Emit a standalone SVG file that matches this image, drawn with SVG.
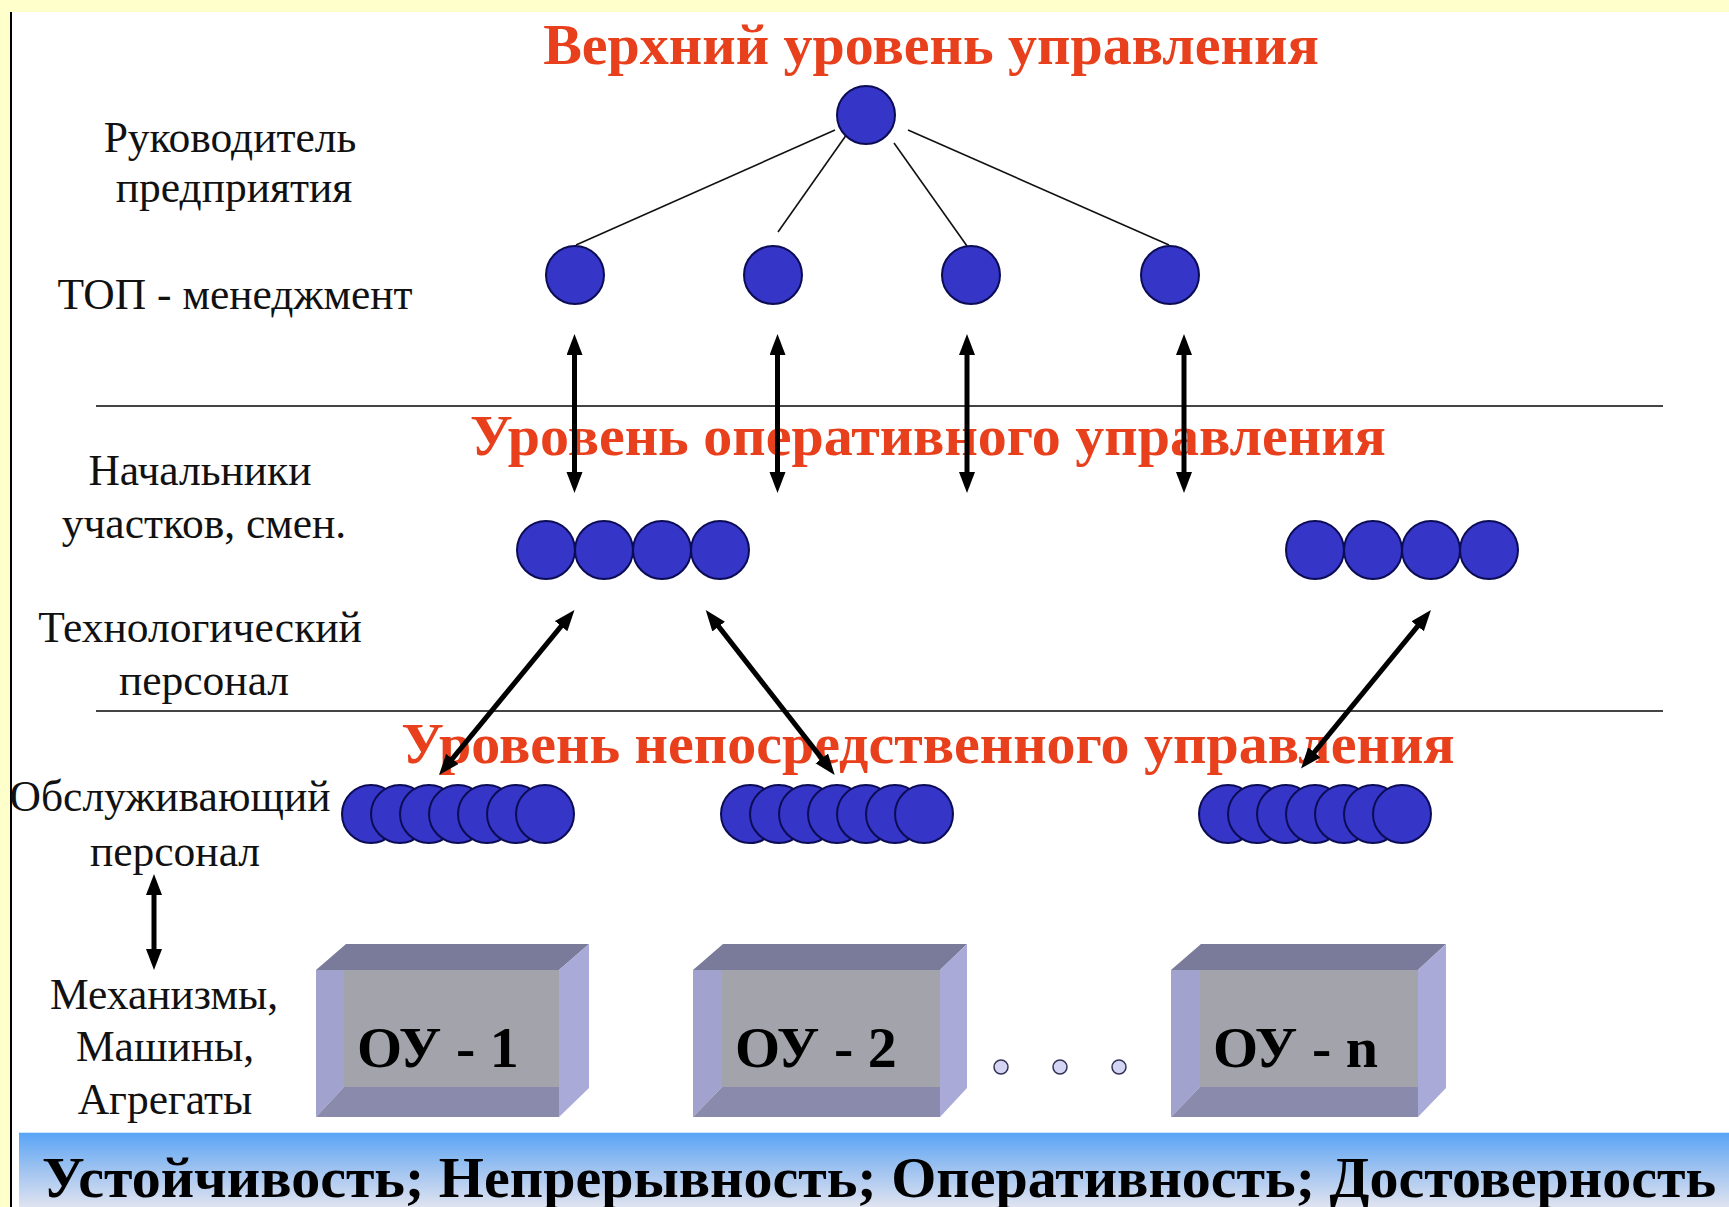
<svg xmlns="http://www.w3.org/2000/svg" width="1729" height="1207" viewBox="0 0 1729 1207">
<defs>
<style>
.red{font-family:"Liberation Serif","Times New Roman",serif;font-weight:bold;font-size:58px;fill:#E8401C;text-anchor:middle}
.lbl{font-family:"Liberation Serif","Times New Roman",serif;font-size:43.5px;fill:#111;text-anchor:middle}
.ou{font-family:"Liberation Serif","Times New Roman",serif;font-weight:bold;font-size:58px;fill:#000}
.bot{font-family:"Liberation Serif","Times New Roman",serif;font-weight:bold;font-size:58px;fill:#000;text-anchor:middle}
.c{fill:#3535C8;stroke:#0c0c55;stroke-width:2}
.thin{stroke:#111;stroke-width:1.6;fill:none}
.arr{stroke:#000;stroke-width:5;fill:none;marker-start:url(#ah);marker-end:url(#ah)}
.rule{stroke:#444;stroke-width:2}
.top{fill:#7a7a9b}.rt{fill:#aaaad8}.lf{fill:#a2a2cf}.bt{fill:#8a8aad}.fr{fill:#a3a3ac}
.dot{fill:#d4d4f4;stroke:#333355;stroke-width:1.5}
</style>
<marker id="ah" markerUnits="userSpaceOnUse" markerWidth="24" markerHeight="18" refX="4" refY="8" orient="auto-start-reverse" viewBox="0 0 24 18">
<path d="M0,0 L21,8 L0,16 Z" fill="#000"/>
</marker>
<linearGradient id="band" x1="0" y1="0" x2="0" y2="1">
<stop offset="0" stop-color="#58a4f7"/>
<stop offset="0.5" stop-color="#9fc3f0"/>
<stop offset="1" stop-color="#dfe3f0"/>
</linearGradient>
</defs>

<rect x="0" y="0" width="1729" height="1207" fill="#fff"/>
<rect x="0" y="0" width="1729" height="12" fill="#FFFFCC"/>
<rect x="0" y="0" width="10" height="1207" fill="#FFFFCC"/>
<line x1="11" y1="12" x2="11" y2="1207" stroke="#000" stroke-width="2"/>

<g id="rules">
<line class="rule" x1="96" y1="406" x2="1663" y2="406"/>
<line class="rule" x1="96" y1="711" x2="1663" y2="711"/>
</g>

<g id="titles">
<text class="red" x="931" y="64">Верхний уровень управления</text>
<text class="red" x="928" y="455">Уровень оперативного управления</text>
<text class="red" x="928" y="763">Уровень непосредственного управления</text>
</g>

<g id="labels">
<text class="lbl" x="230" y="152">Руководитель</text>
<text class="lbl" x="234" y="202">предприятия</text>
<text class="lbl" x="235" y="309">ТОП - менеджмент</text>
<text class="lbl" x="200" y="485">Начальники</text>
<text class="lbl" x="204" y="538">участков, смен.</text>
<text class="lbl" x="200" y="642">Технологический</text>
<text class="lbl" x="204" y="695">персонал</text>
<text class="lbl" x="170" y="811">Обслуживающий</text>
<text class="lbl" x="175" y="866">персонал</text>
<text class="lbl" x="164" y="1009">Механизмы,</text>
<text class="lbl" x="165" y="1061">Машины,</text>
<text class="lbl" x="165" y="1114">Агрегаты</text>
</g>

<g id="connectors">
<line class="thin" x1="835" y1="130" x2="576" y2="245"/>
<line class="thin" x1="847" y1="134" x2="778" y2="232"/>
<line class="thin" x1="894" y1="143" x2="967" y2="246"/>
<line class="thin" x1="908" y1="130" x2="1169" y2="245"/>
<line class="arr" x1="574.5" y1="351" x2="574.5" y2="476"/>
<line class="arr" x1="777.5" y1="351" x2="777.5" y2="476"/>
<line class="arr" x1="967" y1="351" x2="967" y2="476"/>
<line class="arr" x1="1184" y1="351" x2="1184" y2="476"/>
<line class="arr" x1="563.7" y1="623.1" x2="449.8" y2="761.9"/>
<line class="arr" x1="716.2" y1="623.4" x2="824.2" y2="761.6"/>
<line class="arr" x1="1420.2" y1="623.2" x2="1311.8" y2="755.4"/>
<line class="arr" x1="154" y1="891" x2="154" y2="953"/>
</g>

<g id="node-head"><circle class="c" cx="866" cy="115" r="29"/></g>
<g id="node-top">
<circle class="c" cx="575" cy="275" r="29"/>
<circle class="c" cx="773" cy="275" r="29"/>
<circle class="c" cx="971" cy="275" r="29"/>
<circle class="c" cx="1170" cy="275" r="29"/>
</g>
<g id="node-mid-1">
<circle class="c" cx="546" cy="550" r="29"/>
<circle class="c" cx="604" cy="550" r="29"/>
<circle class="c" cx="662" cy="550" r="29"/>
<circle class="c" cx="720" cy="550" r="29"/>
</g>
<g id="node-mid-2">
<circle class="c" cx="1315" cy="550" r="29"/>
<circle class="c" cx="1373" cy="550" r="29"/>
<circle class="c" cx="1431" cy="550" r="29"/>
<circle class="c" cx="1489" cy="550" r="29"/>
</g>
<g id="node-low-1">
<circle class="c" cx="371" cy="814" r="29"/>
<circle class="c" cx="400" cy="814" r="29"/>
<circle class="c" cx="429" cy="814" r="29"/>
<circle class="c" cx="458" cy="814" r="29"/>
<circle class="c" cx="487" cy="814" r="29"/>
<circle class="c" cx="516" cy="814" r="29"/>
<circle class="c" cx="545" cy="814" r="29"/>
</g>
<g id="node-low-2">
<circle class="c" cx="750" cy="814" r="29"/>
<circle class="c" cx="779" cy="814" r="29"/>
<circle class="c" cx="808" cy="814" r="29"/>
<circle class="c" cx="837" cy="814" r="29"/>
<circle class="c" cx="866" cy="814" r="29"/>
<circle class="c" cx="895" cy="814" r="29"/>
<circle class="c" cx="924" cy="814" r="29"/>
</g>
<g id="node-low-3">
<circle class="c" cx="1228" cy="814" r="29"/>
<circle class="c" cx="1257" cy="814" r="29"/>
<circle class="c" cx="1286" cy="814" r="29"/>
<circle class="c" cx="1315" cy="814" r="29"/>
<circle class="c" cx="1344" cy="814" r="29"/>
<circle class="c" cx="1373" cy="814" r="29"/>
<circle class="c" cx="1402" cy="814" r="29"/>
</g>

<g id="ou-1">
<polygon class="top" points="316,970 346,944 589,944 559,970"/>
<polygon class="rt" points="559,970 589,944 589,1088 559,1117"/>
<polygon class="lf" points="316,970 344,970 344,1087 316,1117"/>
<polygon class="bt" points="316,1117 344,1087 559,1087 559,1117"/>
<rect class="fr" x="344" y="970" width="215" height="117"/>
<text class="ou" x="357" y="1067">ОУ - 1</text>
</g>
<g id="ou-2">
<polygon class="top" points="693,970 723,944 967,944 940,970"/>
<polygon class="rt" points="940,970 967,944 967,1088 940,1117"/>
<polygon class="lf" points="693,970 722,970 722,1087 693,1117"/>
<polygon class="bt" points="693,1117 722,1087 940,1087 940,1117"/>
<rect class="fr" x="722" y="970" width="218" height="117"/>
<text class="ou" x="735" y="1067">ОУ - 2</text>
</g>
<g id="dots">
<circle class="dot" cx="1001" cy="1067" r="7"/>
<circle class="dot" cx="1060" cy="1067" r="7"/>
<circle class="dot" cx="1119" cy="1067" r="7"/>
</g>
<g id="ou-n">
<polygon class="top" points="1171,970 1201,944 1446,944 1418,970"/>
<polygon class="rt" points="1418,970 1446,944 1446,1088 1418,1117"/>
<polygon class="lf" points="1171,970 1200,970 1200,1087 1171,1117"/>
<polygon class="bt" points="1171,1117 1200,1087 1418,1087 1418,1117"/>
<rect class="fr" x="1200" y="970" width="218" height="117"/>
<text class="ou" x="1213" y="1067">ОУ - n</text>
</g>

<g id="band">
<rect x="19" y="1132" width="1710" height="75" fill="url(#band)"/>
<line x1="19" y1="1132.5" x2="1729" y2="1132.5" stroke="#cfe4fb" stroke-width="1"/>
<text class="bot" x="879" y="1197">Устойчивость; Непрерывность; Оперативность; Достоверность</text>
</g>
</svg>
